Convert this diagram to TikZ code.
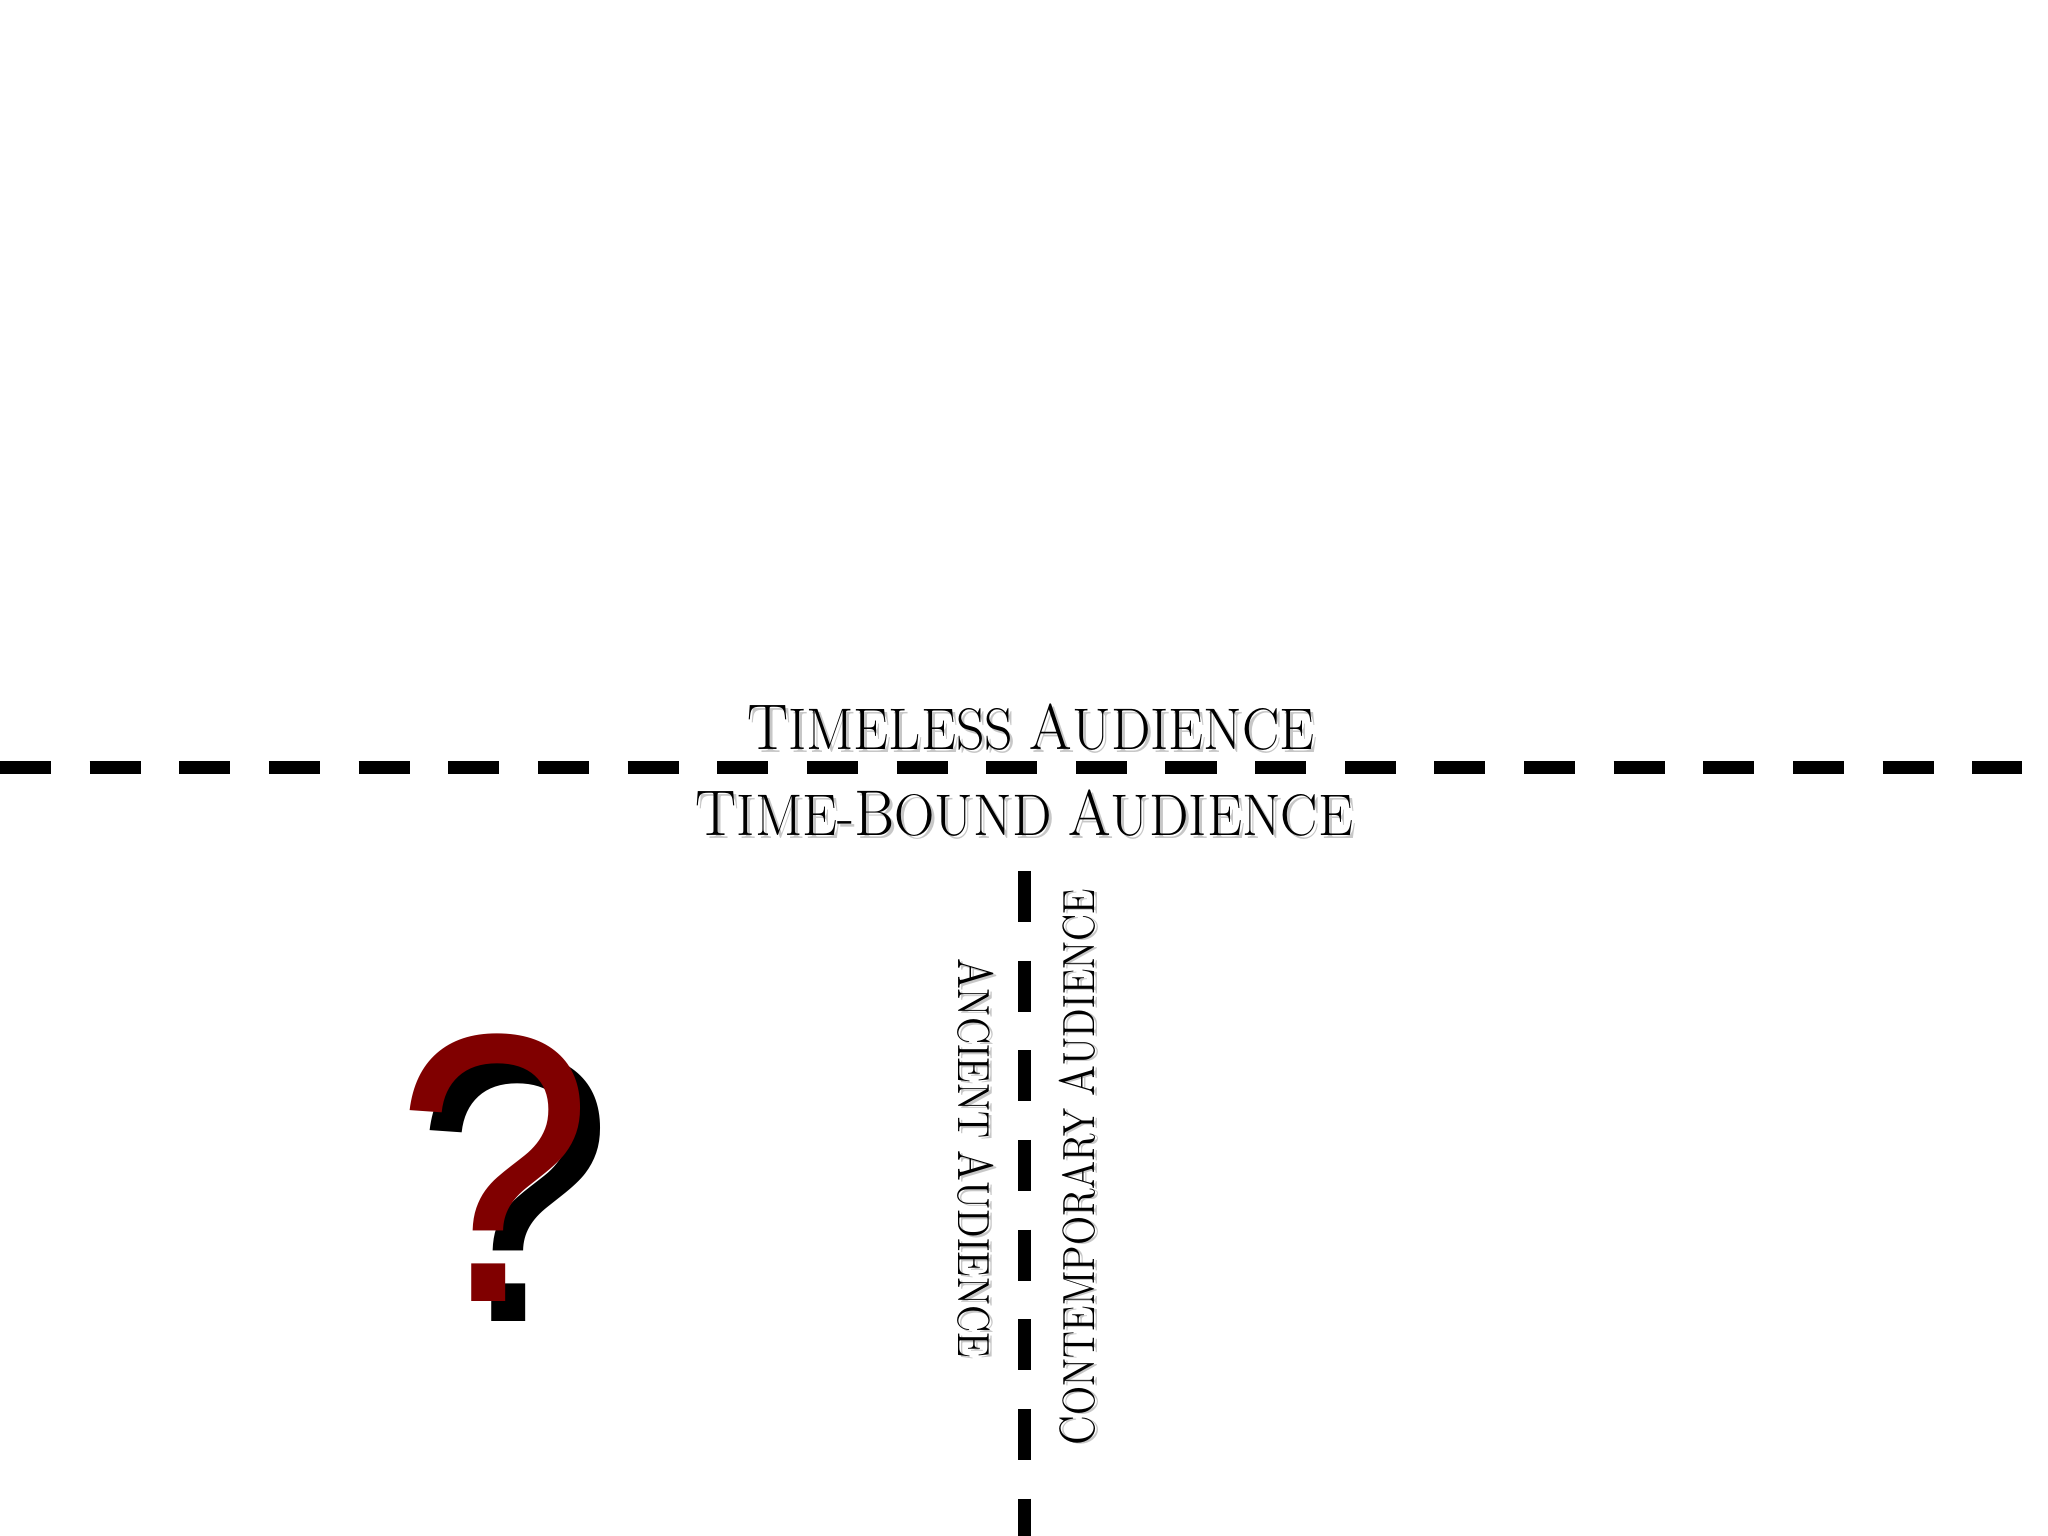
\documentclass[tikz,border=0pt]{standalone}
\usepackage{fontspec}
\usepackage{xcolor}
\usetikzlibrary{positioning}
\newfontfamily\qmarkfont{Liberation Sans}[FakeStretch=0.93]
\newfontfamily\audfont{Latin Modern Roman}[FakeStretch=0.95]
\newfontfamily\sideaudfont{Latin Modern Roman}[FakeStretch=0.85]
\newcommand{\initcap}[1]{\scalebox{1.1}{#1}}
\definecolor{qred}{HTML}{800000}

\tikzset{
  divider/.style={line width=0.13cm, line cap=butt, dash pattern=on 0.51cm off 0.386cm},
  titletxt/.style={inner sep=0pt, font=\fontsize{16.7}{20}\selectfont\audfont},
  sidetxt/.style={inner sep=0pt, font=\fontsize{12.8}{16}\selectfont\sideaudfont},
  shadowtxt/.style={text=black!22},
  qmark/.style={inner sep=0pt, anchor=base, font=\fontsize{109}{114}\selectfont\qmarkfont}
}

\begin{document}
\begin{tikzpicture}[x=0.01cm,y=0.01cm]
  \useasboundingbox (0,0) rectangle (2048,1536);
  % the two dividing lines
  \coordinate (hl) at (0,768.5);
  \coordinate (hr) at (2022,768.5);
  \coordinate (vt) at (1024,665);
  \coordinate (vb) at (1024,0);
  \draw[divider] (hl) -- (hr);
  \draw[divider] (vt) -- (vb);
  % labels above and below the horizontal line
  \node[titletxt, shadowtxt, anchor=base] (timelessS) at (1034,783) {\initcap{T}IMELESS \initcap{A}UDIENCE};
  \node[titletxt, anchor=base] (timeless) at (1031,786) {\initcap{T}IMELESS \initcap{A}UDIENCE};
  \node[titletxt, shadowtxt, anchor=base] (boundS) at (1027.5,697) {\initcap{T}IME-\initcap{B}OUND \initcap{A}UDIENCE};
  \node[titletxt, anchor=base] (bound) at (1024.5,700) {\initcap{T}IME-\initcap{B}OUND \initcap{A}UDIENCE};
  % labels either side of the vertical line
  \node[sidetxt, shadowtxt, rotate=-90] (ancientS) at (979,376) {\initcap{A}NCIENT \initcap{A}UDIENCE};
  \node[sidetxt, rotate=-90] (ancient) at (976,378) {\initcap{A}NCIENT \initcap{A}UDIENCE};
  \node[sidetxt, shadowtxt, rotate=90] (contempS) at (1080,368) {\initcap{C}ONTEMPORARY \initcap{A}UDIENCE};
  \node[sidetxt, rotate=90] (contemp) at (1077,369) {\initcap{C}ONTEMPORARY \initcap{A}UDIENCE};
  % question mark with its shadow
  \node[qmark, text=black] (qshadow) at (514.5,214) {?};
  \node[qmark, text=qred] (question) at (494.5,234) {?};
\end{tikzpicture}
\end{document}
